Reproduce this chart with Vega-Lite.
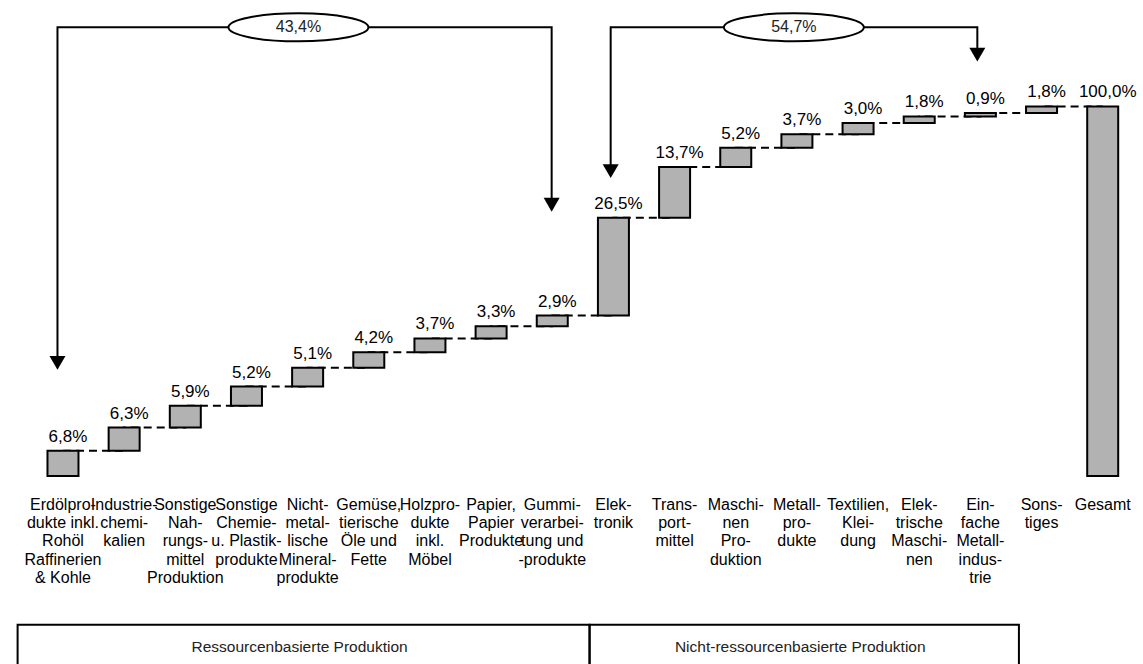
{
  "$schema": "https://vega.github.io/schema/vega-lite/v6.json",
  "width": 1143,
  "height": 664,
  "padding": 0,
  "autosize": {"type": "fit", "contains": "padding"},
  "background": "white",
  "config": {
    "view": {"stroke": null},
    "font": "Liberation Sans",
    "text": {"font": "Liberation Sans", "color": "#000000"}
  },
  "datasets": {
    "branchen": [
      {"nr": 0, "branche": "Erdölpro-\ndukte inkl.\nRohöl\nRaffinerien\n& Kohle", "wert": 6.8, "art": "Anteil"},
      {"nr": 1, "branche": "Industrie-\nchemi-\nkalien", "wert": 6.3, "art": "Anteil"},
      {"nr": 2, "branche": "Sonstige\nNah-\nrungs-\nmittel\nProduktion", "wert": 5.9, "art": "Anteil"},
      {"nr": 3, "branche": "Sonstige\nChemie-\nu. Plastik-\nprodukte", "wert": 5.2, "art": "Anteil"},
      {"nr": 4, "branche": "Nicht-\nmetal-\nlische\nMineral-\nprodukte", "wert": 5.1, "art": "Anteil"},
      {"nr": 5, "branche": "Gemüse,\ntierische\nÖle und\nFette", "wert": 4.2, "art": "Anteil"},
      {"nr": 6, "branche": "Holzpro-\ndukte\ninkl.\nMöbel", "wert": 3.7, "art": "Anteil"},
      {"nr": 7, "branche": "Papier,\nPapier\nProdukte", "wert": 3.3, "art": "Anteil"},
      {"nr": 8, "branche": "Gummi-\nverarbei-\ntung und\n-produkte", "wert": 2.9, "art": "Anteil"},
      {"nr": 9, "branche": "Elek-\ntronik", "wert": 26.5, "art": "Anteil"},
      {"nr": 10, "branche": "Trans-\nport-\nmittel", "wert": 13.7, "art": "Anteil"},
      {"nr": 11, "branche": "Maschi-\nnen\nPro-\nduktion", "wert": 5.2, "art": "Anteil"},
      {"nr": 12, "branche": "Metall-\npro-\ndukte", "wert": 3.7, "art": "Anteil"},
      {"nr": 13, "branche": "Textilien,\nKlei-\ndung", "wert": 3.0, "art": "Anteil"},
      {"nr": 14, "branche": "Elek-\ntrische\nMaschi-\nnen", "wert": 1.8, "art": "Anteil"},
      {"nr": 15, "branche": "Ein-\nfache\nMetall-\nindus-\ntrie", "wert": 0.9, "art": "Anteil"},
      {"nr": 16, "branche": "Sons-\ntiges", "wert": 1.8, "art": "Anteil"},
      {"nr": 17, "branche": "Gesamt", "wert": 100.0, "art": "Summe"}
    ],
    "klammern": [
      {"klammer": "A", "schritt": 1, "nr": -0.09, "hoehe": 30.6, "pfeil": true},
      {"klammer": "A", "schritt": 2, "nr": -0.09, "hoehe": 121.4, "pfeil": false},
      {"klammer": "A", "schritt": 3, "nr": 7.99, "hoehe": 121.4, "pfeil": false},
      {"klammer": "A", "schritt": 4, "nr": 7.99, "hoehe": 73.4, "pfeil": true},
      {"klammer": "B", "schritt": 1, "nr": 8.955, "hoehe": 82.5, "pfeil": true},
      {"klammer": "B", "schritt": 2, "nr": 8.955, "hoehe": 121.4, "pfeil": false},
      {"klammer": "B", "schritt": 3, "nr": 14.95, "hoehe": 121.4, "pfeil": false},
      {"klammer": "B", "schritt": 4, "nr": 14.95, "hoehe": 114.0, "pfeil": true}
    ],
    "summen": [
      {"anteil": "43,4%", "nr": 3.85, "hoehe": 121.4},
      {"anteil": "54,7%", "nr": 11.95, "hoehe": 121.4}
    ],
    "gruppen": [
      {"gruppe": "Ressourcenbasierte Produktion", "links": -0.742, "rechts": 8.61},
      {"gruppe": "Nicht-ressourcenbasierte Produktion", "links": 8.61, "rechts": 15.63}
    ]
  },
  "layer": [
    {
      "data": {"name": "branchen"},
      "transform": [
        {"window": [{"op": "sum", "field": "wert", "as": "bis"}], "groupby": ["art"], "sort": [{"field": "nr"}], "frame": [null, 0]}
      ],
      "mark": {"type": "line", "interpolate": "step-after", "color": "#000000", "strokeWidth": 2, "strokeDash": [8, 5]},
      "encoding": {
        "x": {"field": "nr", "type": "quantitative", "scale": {"domain": [-0.948, 17.577], "nice": false, "zero": false}, "axis": null},
        "y": {"field": "bis", "type": "quantitative", "scale": {"domain": [-50.9, 128.8], "nice": false, "zero": false}, "axis": null}
      }
    },
    {
      "data": {"name": "branchen"},
      "transform": [
        {"window": [{"op": "sum", "field": "wert", "as": "bis"}], "groupby": ["art"], "sort": [{"field": "nr"}], "frame": [null, 0]},
        {"calculate": "datum.bis - datum.wert", "as": "von"}
      ],
      "mark": {"type": "bar", "size": 31, "fill": "#b2b2b2", "stroke": "#000000", "strokeWidth": 2},
      "encoding": {
        "x": {"field": "nr", "type": "quantitative", "scale": {"domain": [-0.948, 17.577], "nice": false, "zero": false}, "axis": null},
        "y": {"field": "von", "type": "quantitative", "scale": {"domain": [-50.9, 128.8], "nice": false, "zero": false}, "axis": null},
        "y2": {"field": "bis"}
      }
    },
    {
      "data": {"name": "branchen"},
      "transform": [
        {"window": [{"op": "sum", "field": "wert", "as": "bis"}], "groupby": ["art"], "sort": [{"field": "nr"}], "frame": [null, 0]},
        {"calculate": "replace(format(datum.wert, '.1f'), '.', ',') + '%'", "as": "beschriftung"}
      ],
      "mark": {"type": "text", "fontSize": 17, "baseline": "alphabetic", "align": "center", "dx": 5, "dy": -9},
      "encoding": {
        "x": {"field": "nr", "type": "quantitative", "scale": {"domain": [-0.948, 17.577], "nice": false, "zero": false}, "axis": null},
        "y": {"field": "bis", "type": "quantitative", "scale": {"domain": [-50.9, 128.8], "nice": false, "zero": false}, "axis": null},
        "text": {"field": "beschriftung"}
      }
    },
    {
      "data": {"name": "branchen"},
      "mark": {"type": "text", "fontSize": 16, "baseline": "top", "align": "center", "lineBreak": "\n", "lineHeight": 18.3},
      "encoding": {
        "x": {"field": "nr", "type": "quantitative", "scale": {"domain": [-0.948, 17.577], "nice": false, "zero": false}, "axis": null},
        "y": {"datum": -5.6, "type": "quantitative", "scale": {"domain": [-50.9, 128.8], "nice": false, "zero": false}, "axis": null},
        "text": {"field": "branche"}
      }
    },
    {
      "mark": {"type": "rule", "color": "#000000", "strokeWidth": 2},
      "encoding": {
        "x": {"datum": -0.527, "type": "quantitative", "scale": {"domain": [-0.948, 17.577], "nice": false, "zero": false}, "axis": null},
        "x2": {"datum": 17.577},
        "y": {"datum": 0, "type": "quantitative", "scale": {"domain": [-50.9, 128.8], "nice": false, "zero": false}, "axis": null}
      }
    },
    {
      "data": {"name": "gruppen"},
      "mark": {"type": "rect", "fill": null, "fillOpacity": 0, "stroke": "#000000", "strokeWidth": 2, "clip": true},
      "encoding": {
        "x": {"field": "links", "type": "quantitative", "scale": {"domain": [-0.948, 17.577], "nice": false, "zero": false}, "axis": null},
        "x2": {"field": "rechts"},
        "y": {"datum": -40.3, "type": "quantitative", "scale": {"domain": [-50.9, 128.8], "nice": false, "zero": false}, "axis": null},
        "y2": {"datum": -60}
      }
    },
    {
      "data": {"name": "gruppen"},
      "transform": [{"calculate": "(datum.links + datum.rechts) / 2", "as": "mitte"}],
      "mark": {"type": "text", "fontSize": 15.5, "baseline": "middle", "align": "center", "dx": -4, "color": "#222222"},
      "encoding": {
        "x": {"field": "mitte", "type": "quantitative", "scale": {"domain": [-0.948, 17.577], "nice": false, "zero": false}, "axis": null},
        "y": {"datum": -46.2, "type": "quantitative", "scale": {"domain": [-50.9, 128.8], "nice": false, "zero": false}, "axis": null},
        "text": {"field": "gruppe"}
      }
    },
    {
      "data": {"name": "klammern"},
      "mark": {"type": "line", "color": "#000000", "strokeWidth": 2},
      "encoding": {
        "x": {"field": "nr", "type": "quantitative", "scale": {"domain": [-0.948, 17.577], "nice": false, "zero": false}, "axis": null},
        "y": {"field": "hoehe", "type": "quantitative", "scale": {"domain": [-50.9, 128.8], "nice": false, "zero": false}, "axis": null},
        "detail": {"field": "klammer"},
        "order": {"field": "schritt"}
      }
    },
    {
      "data": {"name": "klammern"},
      "transform": [{"filter": "datum.pfeil"}],
      "mark": {"type": "point", "shape": "triangle-down", "size": 256, "filled": true, "color": "#000000", "opacity": 1},
      "encoding": {
        "x": {"field": "nr", "type": "quantitative", "scale": {"domain": [-0.948, 17.577], "nice": false, "zero": false}, "axis": null},
        "y": {"field": "hoehe", "type": "quantitative", "scale": {"domain": [-50.9, 128.8], "nice": false, "zero": false}, "axis": null}
      }
    },
    {
      "data": {"name": "summen"},
      "mark": {"type": "point", "shape": "M-1,0A1,0.2,0,1,0,1,0A1,0.2,0,1,0,-1,0Z", "size": 19600, "filled": true, "fill": "#ffffff", "stroke": "#000000", "strokeWidth": 2, "opacity": 1},
      "encoding": {
        "x": {"field": "nr", "type": "quantitative", "scale": {"domain": [-0.948, 17.577], "nice": false, "zero": false}, "axis": null},
        "y": {"field": "hoehe", "type": "quantitative", "scale": {"domain": [-50.9, 128.8], "nice": false, "zero": false}, "axis": null}
      }
    },
    {
      "data": {"name": "summen"},
      "mark": {"type": "text", "fontSize": 16, "baseline": "middle", "align": "center", "color": "#222222"},
      "encoding": {
        "x": {"field": "nr", "type": "quantitative", "scale": {"domain": [-0.948, 17.577], "nice": false, "zero": false}, "axis": null},
        "y": {"field": "hoehe", "type": "quantitative", "scale": {"domain": [-50.9, 128.8], "nice": false, "zero": false}, "axis": null},
        "text": {"field": "anteil"}
      }
    }
  ]
}
